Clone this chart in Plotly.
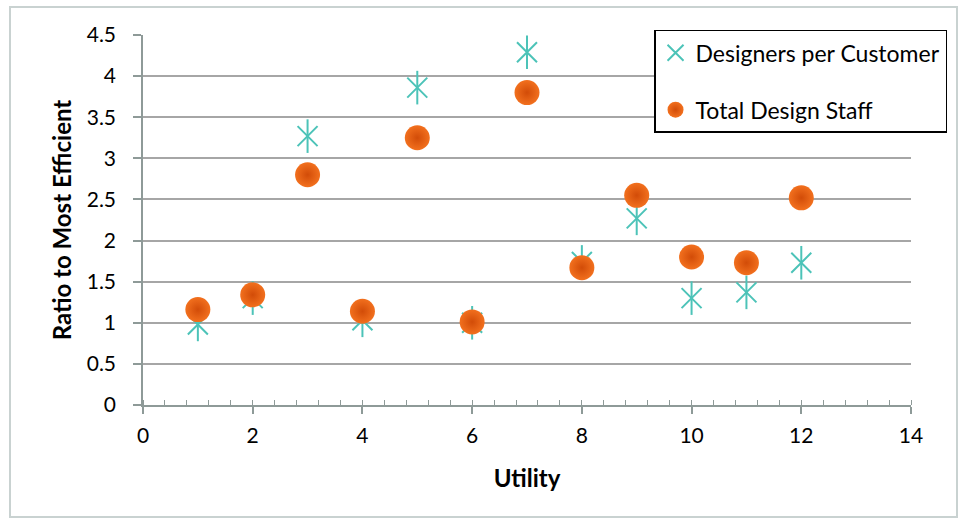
import plotly.graph_objects as go

utility = [1, 2, 3, 4, 5, 6, 7, 8, 9, 10, 11, 12]
designers_per_customer = [0.98, 1.30, 3.27, 1.03, 3.86, 1.00, 4.29, 1.74, 2.27, 1.30, 1.37, 1.73]
total_design_staff = [1.16, 1.34, 2.80, 1.14, 3.25, 1.01, 3.80, 1.67, 2.55, 1.80, 1.73, 2.52]

x_ticks = [0, 2, 4, 6, 8, 10, 12, 14]
y_ticks = [0, 0.5, 1, 1.5, 2, 2.5, 3, 3.5, 4, 4.5]
y_tick_labels = ["0", "0.5", "1", "1.5", "2", "2.5", "3", "3.5", "4", "4.5"]

CYAN = "#4CC3B8"
FONT = "Lato"
AXIS = "#8E9A98"

fig = go.Figure()

fig.add_trace(go.Scatter(
    x=utility, y=designers_per_customer, mode="markers",
    name="Designers per Customer", legendgroup="a",
    marker=dict(symbol="x-thin-open", size=20, color=CYAN,
                line=dict(color=CYAN, width=2)),
))
fig.add_trace(go.Scatter(
    x=utility, y=designers_per_customer, mode="markers",
    showlegend=False, legendgroup="a", hoverinfo="skip",
    marker=dict(symbol="line-ns-open", size=24, color=CYAN,
                line=dict(color=CYAN, width=2)),
))
fig.add_trace(go.Scatter(
    x=utility, y=total_design_staff, mode="markers",
    name="Total Design Staff", legendgroup="b",
    marker=dict(symbol="circle", size=25, color="#F2701E",
                gradient=dict(type="radial", color="#D24C08"),
                line=dict(width=0)),
))

fig.update_layout(
    width=961, height=525,
    margin=dict(l=143, r=50, t=35, b=120, autoexpand=False),
    paper_bgcolor="white", plot_bgcolor="white",
    font=dict(family=FONT, size=21, color="#000000"),
    showlegend=True,
    legend=dict(
        x=0.6654, y=1.014, xanchor="left", yanchor="top",
        bgcolor="white", bordercolor="#000000", borderwidth=1.5,
        font=dict(family=FONT, size=23, color="#000000"),
        tracegroupgap=24, traceorder="grouped", itemwidth=30,
    ),
    xaxis=dict(
        range=[0, 14], tickmode="array", tickvals=x_ticks,
        showgrid=False, zeroline=False,
        showline=True, linecolor=AXIS, linewidth=1.5,
        ticks="outside", ticklen=7, tickcolor=AXIS, tickwidth=1.5,
        minor=dict(dtick=0.4, ticks="inside", ticklen=5, tickcolor=AXIS,
                   tickwidth=1, showgrid=False),
        tickfont=dict(family=FONT, size=21),
        ticklabelstandoff=4,
        title=dict(text="<b>Utility</b>", font=dict(family=FONT, size=24), standoff=24),
    ),
    yaxis=dict(
        range=[0, 4.5], tickmode="array", tickvals=y_ticks, ticktext=y_tick_labels,
        showgrid=True, gridcolor="#A6A6A6", gridwidth=1.5,
        zeroline=False,
        showline=True, linecolor=AXIS, linewidth=1.5,
        ticks="outside", ticklen=8, tickcolor=AXIS, tickwidth=1.5,
        tickfont=dict(family=FONT, size=21),
        ticklabelstandoff=13,
        title=dict(text="<b>Ratio to Most Efficient</b>", font=dict(family=FONT, size=24), standoff=8),
    ),
    shapes=[dict(
        type="rect", xref="paper", yref="paper",
        x0=(10 - 143) / 768, x1=(957 - 143) / 768,
        y0=(405 - 517) / 370, y1=(405 - 7) / 370,
        line=dict(color="#C9D2D1", width=2), fillcolor="rgba(0,0,0,0)", layer="below",
    )],
)

fig.write_html("out.html", config={"displayModeBar": False},
               post_script="document.body.style.margin='0px';")
